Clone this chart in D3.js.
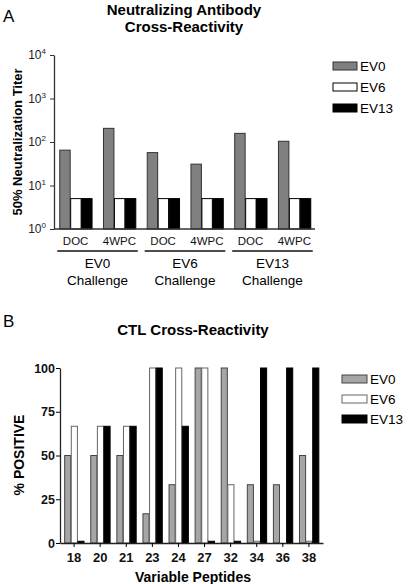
<!DOCTYPE html>
<html><head><meta charset="utf-8">
<script src="https://cdn.jsdelivr.net/npm/d3@7"></script>
<style>body{margin:0;background:#fff}svg{display:block;font-family:"Liberation Sans",Arial,sans-serif}</style>
</head><body>
<script>
// ---- Panel A data ----
const challengesA = ["EV0", "EV6", "EV13"];
const timepointsA = ["DOC", "4WPC"];
const seriesNames = ["EV0", "EV6", "EV13"];
const ev0A = [65, 206, 57, 31, 158, 104];
const ev6A = [5, 5, 5, 5, 5, 5];
const ev13A = [5, 5, 5, 5, 5, 5];
const tickExpA = [0, 1, 2, 3, 4];

// ---- Panel B data ----
const peptides = ["18", "20", "21", "23", "24", "27", "32", "34", "36", "38"];
const ev0B = [50, 50, 50, 16.7, 33.3, 100, 100, 33.3, 33.3, 50];
const ev6B = [66.7, 66.7, 66.7, 100, 100, 100, 33.3, 1, 0, 1];
const ev13B = [1, 66.7, 66.7, 100, 66.7, 1, 1, 100, 100, 100];
const ticksB = [0, 25, 50, 75, 100];

const W = 408, H = 584;
const svg = d3.select("body").append("svg").attr("width", W).attr("height", H);

// ================= Panel A =================
const catsA = [];
challengesA.forEach(c => timepointsA.forEach(t => catsA.push(c + "|" + t)));
const xA = d3.scaleBand().domain(catsA).range([54, 316]).paddingInner(0.25).paddingOuter(0.12);
const sA = d3.scaleBand().domain(seriesNames).range([0, xA.bandwidth()]);
const yA = d3.scaleLog().domain([1, 1e4]).range([229, 55]);
const fillA = {EV0: "#808080", EV6: "#ffffff", EV13: "#000000"};
const strokeA = {EV0: "#333", EV6: "#000", EV13: "#000"};
const valsA = {EV0: ev0A, EV6: ev6A, EV13: ev13A};

svg.append("text").attr("x", 3).attr("y", 22).attr("font-size", 17).text("A");
svg.append("text").attr("x", 184).attr("y", 15).attr("text-anchor", "middle").attr("font-size", 15).attr("font-weight", "bold").text("Neutralizing Antibody");
svg.append("text").attr("x", 184).attr("y", 32).attr("text-anchor", "middle").attr("font-size", 15).attr("font-weight", "bold").text("Cross-Reactivity");

const gA = svg.append("g");
seriesNames.forEach(s => {
  gA.selectAll(null).data(valsA[s]).enter().append("rect")
    .attr("x", (d, i) => xA(catsA[i]) + sA(s) + 0.5)
    .attr("y", d => yA(d))
    .attr("width", sA.bandwidth() - 0.5)
    .attr("height", d => yA(1) - yA(d))
    .attr("fill", fillA[s]).attr("stroke", strokeA[s]).attr("stroke-width", 1);
});

const axA = svg.append("g").attr("transform", "translate(54,0)")
  .call(d3.axisLeft(yA).tickValues(tickExpA.map(e => Math.pow(10, e))).tickFormat("").tickSize(4).tickSizeOuter(0));
axA.select(".domain").attr("stroke", "#333").attr("stroke-width", 1.3);
axA.selectAll(".tick line").attr("stroke", "#333");
tickExpA.forEach(e => {
  const t = svg.append("text").attr("x", 46).attr("y", yA(Math.pow(10, e)) + 4).attr("text-anchor", "end").attr("font-size", 12).attr("fill", "#222");
  t.append("tspan").text("10");
  t.append("tspan").attr("dy", -5).attr("font-size", 8).text(e);
});
svg.append("line").attr("x1", 54).attr("x2", 315).attr("y1", yA(1)).attr("y2", yA(1)).attr("stroke", "#333").attr("stroke-width", 1.3);

svg.append("text").attr("transform", "translate(22,142) rotate(-90)").attr("text-anchor", "middle")
  .attr("font-size", 13).attr("font-weight", "bold").text("50% Neutralization Titer");

catsA.forEach(c => {
  svg.append("text").attr("x", xA(c) + xA.bandwidth() / 2).attr("y", 245).attr("text-anchor", "middle").attr("font-size", 11.5).attr("fill", "#111").text(c.split("|")[1]);
});
challengesA.forEach(c => {
  const x0 = xA(c + "|DOC") - 2, x1 = xA(c + "|4WPC") + xA.bandwidth() + 2;
  svg.append("line").attr("x1", x0).attr("x2", x1).attr("y1", 251).attr("y2", 251).attr("stroke", "#111").attr("stroke-width", 1.5);
  svg.append("text").attr("x", (x0 + x1) / 2).attr("y", 268).attr("text-anchor", "middle").attr("font-size", 13.5).text(c);
  svg.append("text").attr("x", (x0 + x1) / 2).attr("y", 285).attr("text-anchor", "middle").attr("font-size", 13.5).text("Challenge");
});

const legA = svg.append("g");
seriesNames.forEach((s, i) => {
  legA.append("rect").attr("x", 333).attr("y", 62 + i * 21).attr("width", 24).attr("height", 8).attr("fill", fillA[s]).attr("stroke", strokeA[s]);
  legA.append("text").attr("x", 360).attr("y", 71 + i * 21).attr("font-size", 13.5).text(s);
});

// ================= Panel B =================
const xB = d3.scaleBand().domain(peptides).range([60, 323]).paddingInner(0.24).paddingOuter(0.16);
const sB = d3.scaleBand().domain(seriesNames).range([0, xB.bandwidth()]);
const yB = d3.scaleLinear().domain([0, 100]).range([543, 368]);
const fillB = {EV0: "#a6a6a6", EV6: "#ffffff", EV13: "#000000"};
const strokeB = {EV0: "#444", EV6: "#666", EV13: "#000"};
const valsB = {EV0: ev0B, EV6: ev6B, EV13: ev13B};

svg.append("text").attr("x", 3).attr("y", 327).attr("font-size", 17).text("B");
svg.append("text").attr("x", 193).attr("y", 335).attr("text-anchor", "middle").attr("font-size", 15).attr("font-weight", "bold").text("CTL Cross-Reactivity");

const gB = svg.append("g");
seriesNames.forEach(s => {
  valsB[s].forEach((d, i) => {
    if (d <= 0) return;
    gB.append("rect")
      .attr("x", xB(peptides[i]) + sB(s) + 0.5)
      .attr("y", yB(d))
      .attr("width", sB.bandwidth() - 0.5)
      .attr("height", yB(0) - yB(d))
      .attr("fill", fillB[s]).attr("stroke", strokeB[s]).attr("stroke-width", 1);
  });
});

const axBy = svg.append("g").attr("transform", "translate(60,0)")
  .call(d3.axisLeft(yB).tickValues(ticksB).tickSize(4).tickSizeOuter(0));
axBy.select(".domain").attr("stroke", "#222").attr("stroke-width", 1.3);
axBy.selectAll(".tick text").attr("font-size", 12.5).attr("font-weight", "bold").attr("fill", "#111")
  .attr("font-family", "Liberation Sans, Arial, sans-serif").attr("x", -5);
const axBx = svg.append("g").attr("transform", "translate(0,543)")
  .call(d3.axisBottom(xB).tickSize(4).tickSizeOuter(0));
axBx.select(".domain").attr("stroke", "#222").attr("stroke-width", 1.3);
axBx.selectAll(".tick text").attr("font-size", 13).attr("font-weight", "bold").attr("fill", "#111")
  .attr("font-family", "Liberation Sans, Arial, sans-serif").attr("dy", "0.9em");

svg.append("text").attr("transform", "translate(24,455) rotate(-90)").attr("text-anchor", "middle")
  .attr("font-size", 14).attr("font-weight", "bold").text("% POSITIVE");
svg.append("text").attr("x", 193).attr("y", 582).attr("text-anchor", "middle")
  .attr("font-size", 14).attr("font-weight", "bold").text("Variable Peptides");

const legB = svg.append("g");
seriesNames.forEach((s, i) => {
  legB.append("rect").attr("x", 342).attr("y", 375 + i * 20).attr("width", 25).attr("height", 8).attr("fill", fillB[s]).attr("stroke", strokeB[s]);
  legB.append("text").attr("x", 370).attr("y", 384 + i * 20).attr("font-size", 13.5).text(s);
});
</script>
</body></html>
